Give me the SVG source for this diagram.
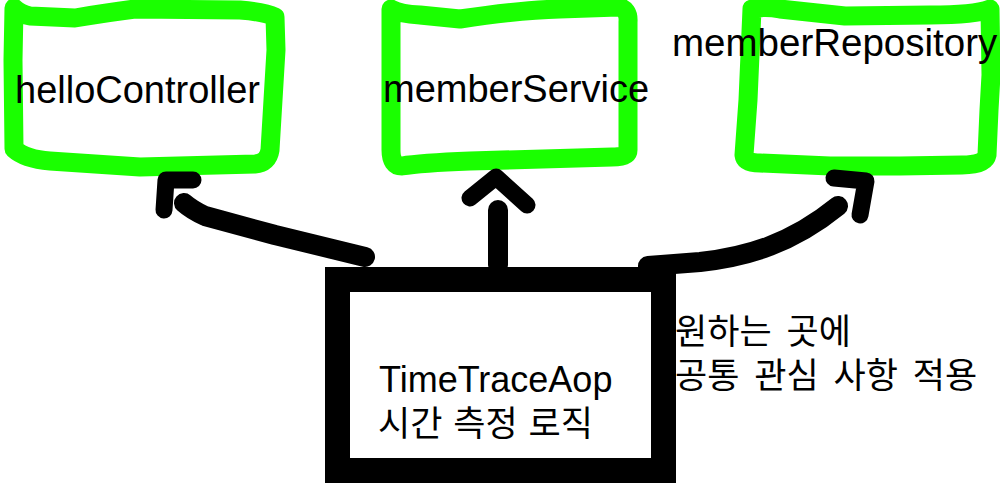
<svg xmlns="http://www.w3.org/2000/svg" width="1000" height="500" viewBox="0 0 1000 500">
  <style>
    .sketch { fill: none; stroke: #1aff00; stroke-width: 19; stroke-linejoin: round; stroke-linecap: round; }
    .aop { fill: #ffffff; stroke: #000000; stroke-width: 25; }
    .ink { fill: none; stroke: #000000; stroke-linecap: round; stroke-linejoin: round; }
    .shaft { stroke-width: 20; }
    .head { stroke-width: 17; }
    .lbl { font-family: "Liberation Sans", Arial, sans-serif; font-size: 38px; fill: #000000; }
    .ko { font-family: "Noto Sans CJK KR", "Liberation Sans", sans-serif; font-size: 35px; word-spacing: 3px; fill: #000000; }
    .note { word-spacing: 7px; }
  </style>
  <rect width="1000" height="500" fill="#ffffff"/>

  <!-- hand-drawn target components -->
  <g id="helloController">
    <path class="sketch" d="M 14 8 Q 20 14 30 16 L 75 18 Q 110 12 135 9 L 240 10 Q 265 12 275 17 L 276 50 L 270 150 Q 268 163 255 164 L 140 167 L 50 161 Q 25 159 14 149 L 13 60 Z"/>
    <text class="lbl" x="15" y="103">helloController</text>
  </g>

  <g id="memberService">
    <path class="sketch" d="M 391 9 Q 400 14 420 15 L 460 19 Q 520 10 560 9 L 618 7 Q 629 9 628 22 L 628 150 Q 628 157 612 157 L 470 161 Q 420 163 402 166 Q 391 166 391 150 Z"/>
    <text class="lbl" x="383" y="102">memberService</text>
  </g>

  <g id="memberRepository">
    <path class="sketch" d="M 752 9 Q 765 6 780 9 L 845 16 L 930 15 Q 975 15 990 9 L 991 75 L 989 110 L 987 155 Q 985 165 962 165 L 900 166 L 830 166 L 760 163 Q 745 163 744 155 L 748 100 Z"/>
    <text class="lbl" x="672" y="56" style="font-size:38.5px">memberRepository</text>
  </g>

  <!-- aspect box -->
  <g id="timeTraceAop">
    <rect class="aop" x="337.5" y="279.5" width="326" height="191"/>
    <text class="lbl" x="379" y="392" style="font-size:36px">TimeTraceAop</text>
    <text class="ko" x="378" y="436">시간 측정 로직</text>
  </g>

  <!-- side note -->
  <g id="note">
    <text class="ko note" x="675" y="344">원하는 곳에</text>
    <text class="ko note" x="675" y="388">공통 관심 사항 적용</text>
  </g>

  <!-- connectors -->
  <g id="connectors">
    <path class="ink shaft" d="M 365 257 L 275 235 L 205 216 Q 192 210 184 203"/>
    <path class="ink head" d="M 193 180 L 166 180 L 164 210"/>

    <path class="ink shaft" d="M 498 265 L 498 210"/>
    <path class="ink head" d="M 470 198 L 496 177 L 527 205"/>

    <path class="ink shaft" d="M 648 266 L 700 262 C 745 257 790 245 838 206"/>
    <path class="ink head" d="M 834 178 L 866 181 L 860 215"/>
  </g>
</svg>
